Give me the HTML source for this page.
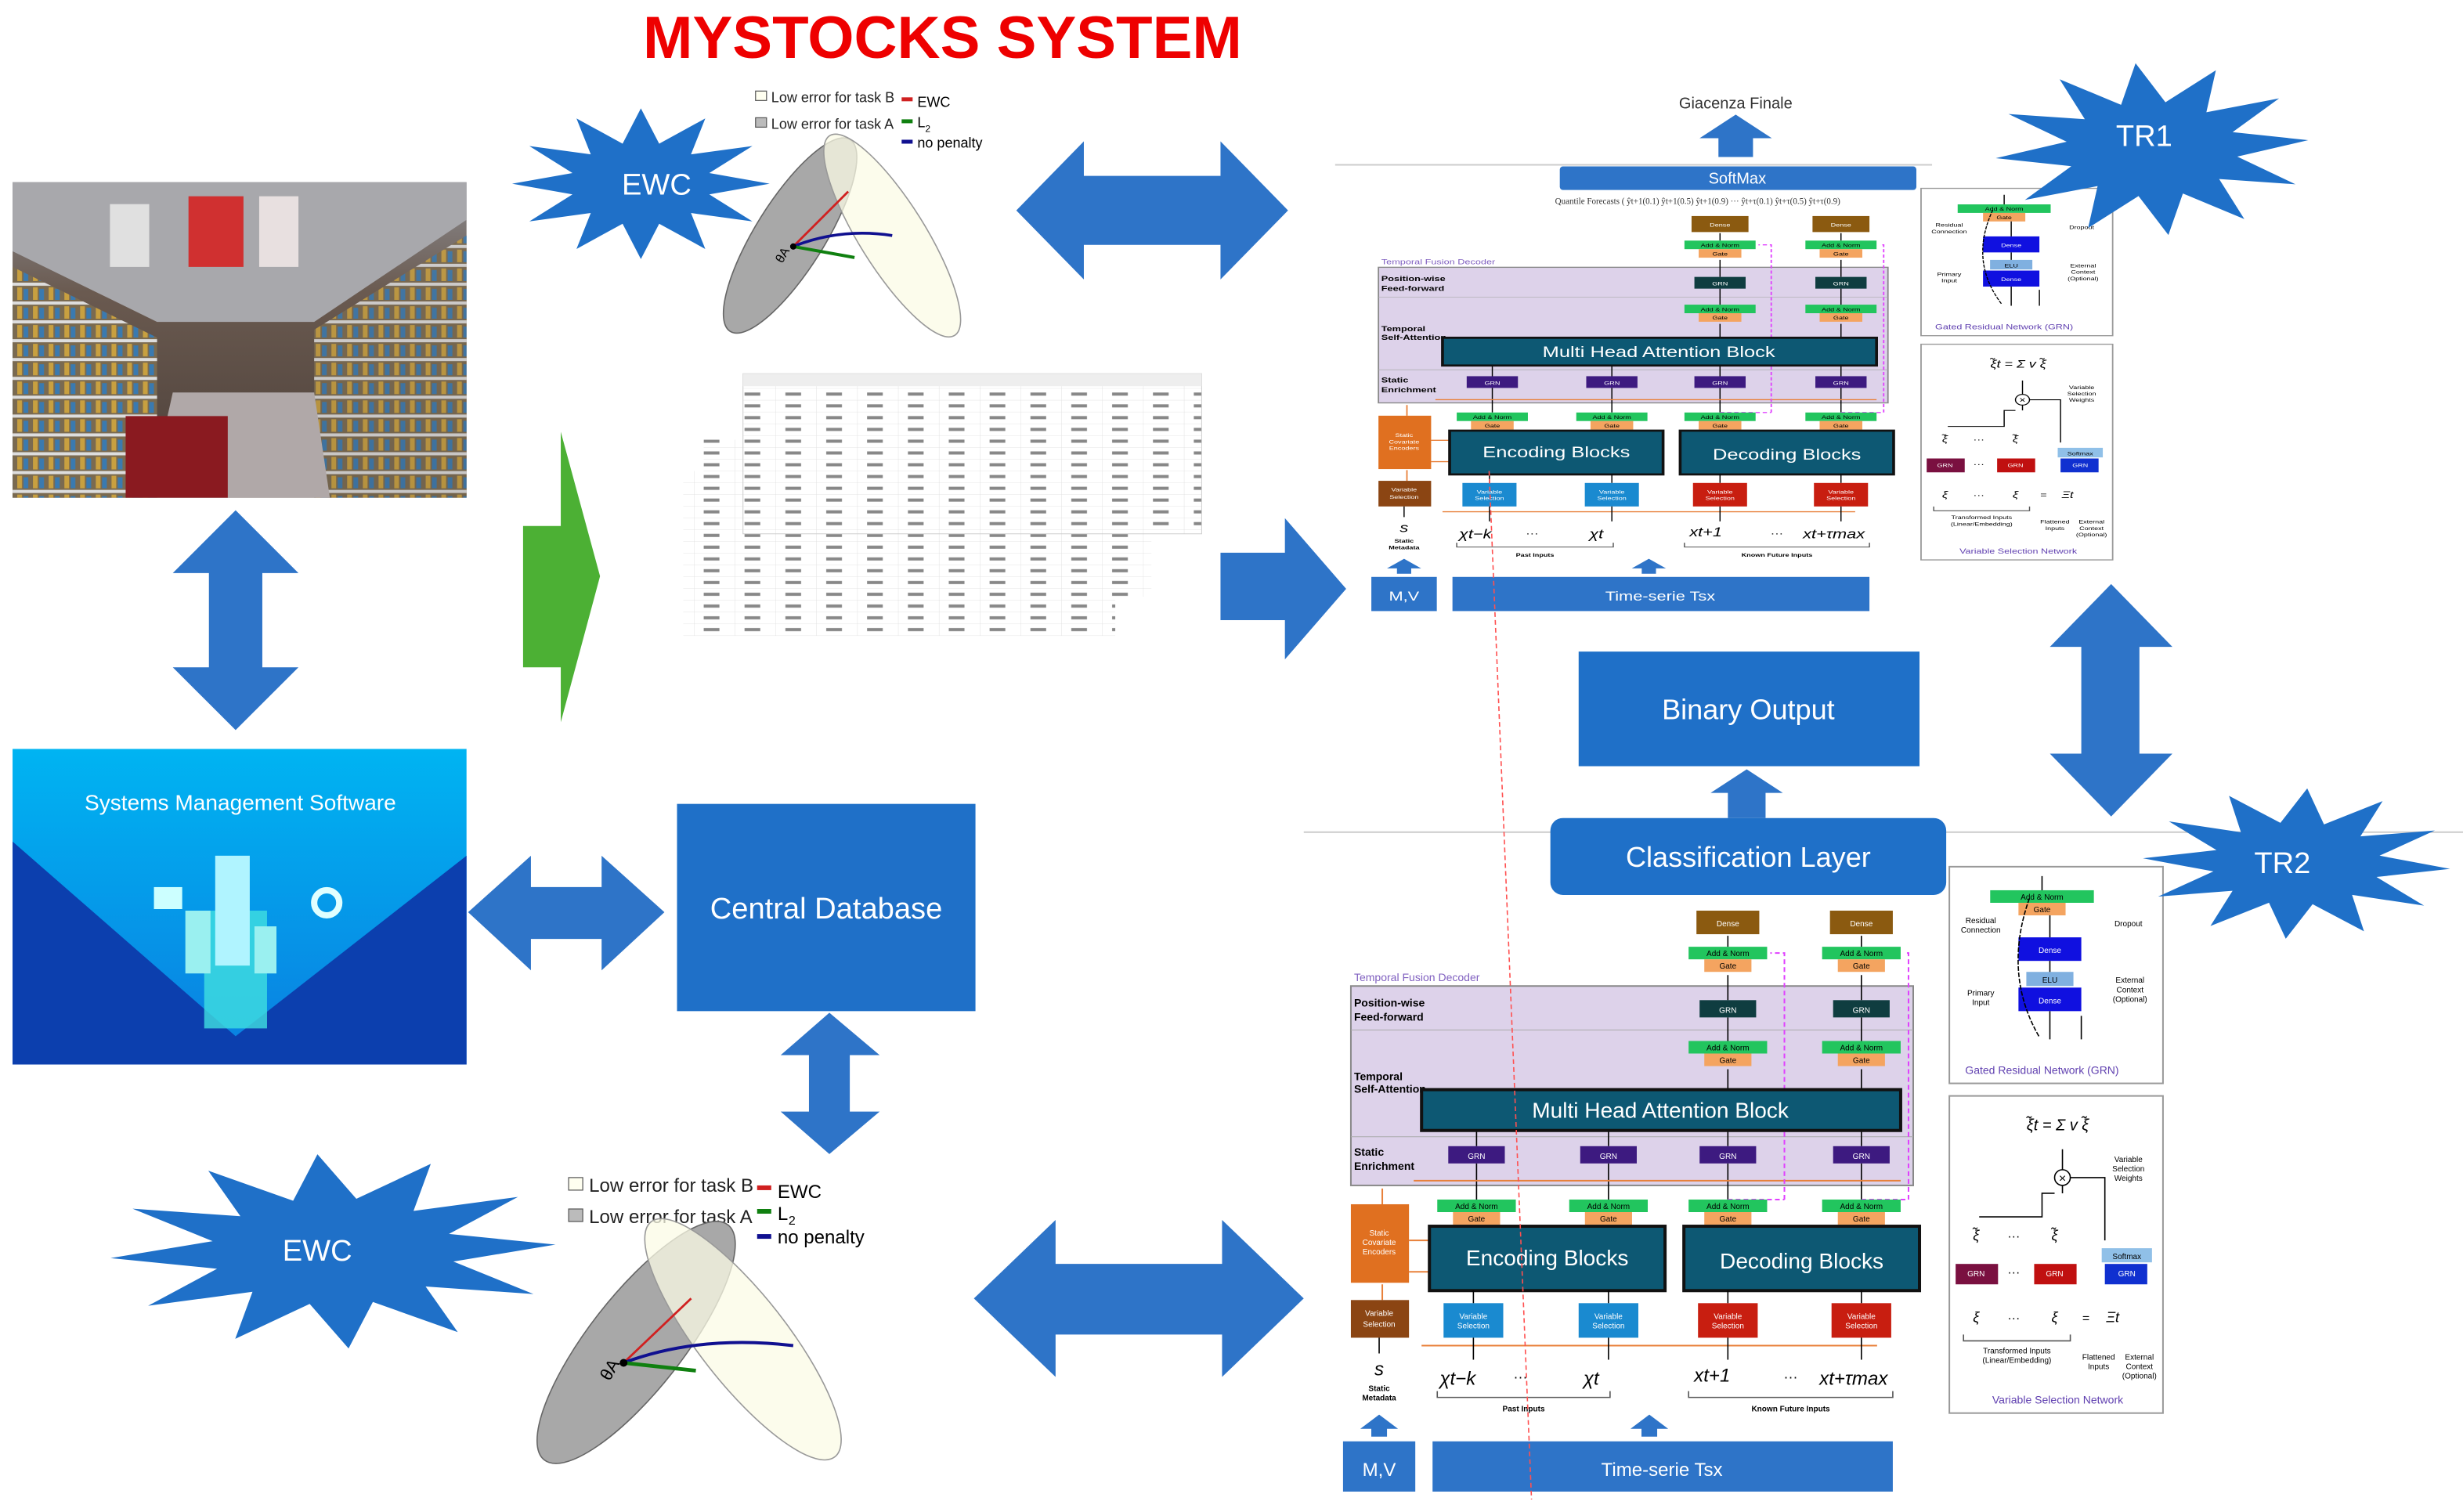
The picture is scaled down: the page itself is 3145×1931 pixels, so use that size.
<!DOCTYPE html>
<html><head><meta charset="utf-8"><style>
html,body{margin:0;padding:0;background:#fff;}
svg{display:block;}
text{font-family:"Liberation Sans",sans-serif;}
.s{font-family:"Liberation Serif",serif;}
</style></head><body>
<svg width="3145" height="1931" viewBox="0 0 1568 963" preserveAspectRatio="none" xmlns="http://www.w3.org/2000/svg">
<defs>
<polygon id="star" points="1,0 .531,.142 .866,.5 .389,.389 .5,.866 .142,.531 0,1 -.142,.531 -.5,.866 -.389,.389 -.866,.5 -.531,.142 -1,0 -.531,-.142 -.866,-.5 -.389,-.389 -.5,-.866 -.142,-.531 0,-1 .142,-.531 .5,-.866 .389,-.389 .866,-.5 .531,-.142"/>
<linearGradient id="sms" x1="0" y1="0" x2="0" y2="1"><stop offset="0" stop-color="#00b4f2"/><stop offset="1" stop-color="#0a7ee0"/></linearGradient>
<linearGradient id="shop" x1="0" y1="0" x2="0" y2="1"><stop offset="0" stop-color="#8c8c90"/><stop offset=".35" stop-color="#6a5a50"/><stop offset="1" stop-color="#4a3e38"/></linearGradient>
<pattern id="grid" width="26" height="7.5" patternUnits="userSpaceOnUse"><rect width="26" height="7.5" fill="#fff"/><path d="M0 7.5H26M26 0V7.5" stroke="#dcdcdc" stroke-width=".4"/><rect x="6" y="2.5" width="10" height="2" fill="#888"/></pattern>
<pattern id="shelf" width="10" height="12" patternUnits="userSpaceOnUse"><rect width="10" height="12" fill="#7a6a50"/><rect y="0" width="10" height="2" fill="#ddd"/><rect x="1" y="3" width="3" height="8" fill="#c8a040"/><rect x="5" y="4" width="3" height="7" fill="#3a7ab0"/></pattern>
</defs>

<text x="600" y="37" font-size="38" font-weight="bold" fill="#ee0000" text-anchor="middle">MYSTOCKS SYSTEM</text>

<!-- shop photo -->
<rect x="8" y="116" width="289" height="201" fill="url(#shop)"/>
<polygon points="8,116 297,116 297,140 200,205 100,205 8,160" fill="#a8a8ac"/>
<polygon points="8,170 100,215 100,317 8,317" fill="url(#shelf)"/>
<polygon points="200,210 297,150 297,317 200,317" fill="url(#shelf)" opacity=".85"/>
<polygon points="110,250 200,250 210,317 95,317" fill="#b0a8a8"/>
<rect x="80" y="265" width="65" height="52" fill="#8a1a20"/>
<rect x="70" y="130" width="25" height="40" fill="#e0e0e0"/><rect x="120" y="125" width="35" height="45" fill="#d03030"/><rect x="165" y="125" width="25" height="45" fill="#e8e0e0"/>

<polygon points="150,325 190,365 167,365 167,425 190,425 150,465 110,425 133,425 133,365 110,365" fill="#2e74c8"/>

<rect x="8" y="477" width="289" height="201" fill="url(#sms)"/>
<polygon points="8,536 150,660 297,545 297,678 8,678" fill="#0c3fae"/>
<rect x="130" y="580" width="40" height="75" fill="#40e0e0" opacity=".8"/>
<rect x="137" y="545" width="22" height="70" fill="#b0f4ff"/>
<rect x="118" y="580" width="16" height="40" fill="#9af0f0"/><rect x="162" y="590" width="14" height="30" fill="#9af0f0"/>
<rect x="98" y="565" width="18" height="14" fill="#cff"/><circle cx="208" cy="575" r="8" fill="none" stroke="#e0ffff" stroke-width="4"/>
<text x="153" y="516" font-size="14" fill="#fff" text-anchor="middle">Systems Management Software</text>

<polygon points="298,581 338,545 338,565 383,565 383,545 423,581 383,618 383,598 338,598 338,618" fill="#2e74c8"/>

<rect x="431" y="512" width="190" height="132" fill="#1f70c8"/>
<text x="526" y="585" font-size="19" fill="#fff" text-anchor="middle">Central Database</text>
<polygon points="528,645 560,672 541,672 541,708 560,708 528,735 497,708 515,708 515,672 497,672" fill="#2e74c8"/>

<use href="#star" transform="translate(408,117) scale(82,48)" fill="#1f70c8"/>
<text x="418" y="124" font-size="19" fill="#fff" text-anchor="middle">EWC</text>
<use href="#star" transform="translate(212,797) scale(142,62) rotate(-4)" fill="#1f70c8"/>
<text x="202" y="803" font-size="19" fill="#fff" text-anchor="middle">EWC</text>

<rect x="481" y="58" width="7" height="6" fill="#fffff0" stroke="#555" stroke-width=".6"/>
<text x="491" y="65" font-size="9" fill="#222">Low error for task B</text>
<rect x="481" y="75" width="7" height="6" fill="#bbb" stroke="#555" stroke-width=".6"/>
<text x="491" y="82" font-size="9" fill="#222">Low error for task A</text>
<rect x="574" y="62" width="7" height="2.5" fill="#d02020"/><text x="584" y="68" font-size="9">EWC</text>
<rect x="574" y="76" width="7" height="2.5" fill="#108010"/><text x="584" y="81" font-size="9">L</text><text x="589" y="84" font-size="6">2</text>
<rect x="574" y="89" width="7" height="2.5" fill="#101090"/><text x="584" y="94" font-size="9">no penalty</text>
<ellipse cx="503" cy="150" rx="72" ry="22" transform="rotate(-58 503 150)" fill="#a8a8a8" stroke="#666" stroke-width=".8"/>
<ellipse cx="568" cy="150" rx="75" ry="21" transform="rotate(58 568 150)" fill="#fbfbe6" fill-opacity=".75" stroke="#999" stroke-width=".8"/>
<line x1="505" y1="157" x2="540" y2="122" stroke="#d02020" stroke-width="1.4"/>
<path d="M505 157 Q535 145 568 150" fill="none" stroke="#101090" stroke-width="1.8"/>
<line x1="505" y1="157" x2="544" y2="164" stroke="#108010" stroke-width="2"/>
<circle cx="505" cy="157" r="2" fill="#000"/><text x="498" y="168" font-size="8" transform="rotate(-60 498 168)">θA</text>

<rect x="362" y="750" width="9" height="8" fill="#fffff0" stroke="#555" stroke-width=".6"/>
<text x="375" y="759" font-size="12" fill="#222">Low error for task B</text>
<rect x="362" y="770" width="9" height="8" fill="#bbb" stroke="#555" stroke-width=".6"/>
<text x="375" y="779" font-size="12" fill="#222">Low error for task A</text>
<rect x="482" y="755" width="9" height="3" fill="#d02020"/><text x="495" y="763" font-size="12">EWC</text>
<rect x="482" y="770" width="9" height="3" fill="#108010"/><text x="495" y="777" font-size="12">L</text><text x="502" y="780" font-size="8">2</text>
<rect x="482" y="786" width="9" height="3" fill="#101090"/><text x="495" y="792" font-size="12">no penalty</text>
<ellipse cx="405" cy="855" rx="95" ry="30" transform="rotate(-52 405 855)" fill="#a8a8a8" stroke="#666" stroke-width=".8"/>
<ellipse cx="473" cy="853" rx="95" ry="28" transform="rotate(52 473 853)" fill="#fbfbe6" fill-opacity=".75" stroke="#999" stroke-width=".8"/>
<line x1="397" y1="868" x2="440" y2="827" stroke="#d02020" stroke-width="1.4"/>
<path d="M397 868 Q445 850 505 857" fill="none" stroke="#101090" stroke-width="2"/>
<line x1="397" y1="868" x2="443" y2="873" stroke="#108010" stroke-width="2.4"/>
<circle cx="397" cy="868" r="2.5" fill="#000"/><text x="388" y="880" font-size="11" transform="rotate(-60 388 880)">θA</text>

<polygon points="647,134 690,90 690,112 777,112 777,90 820,134 777,178 777,156 690,156 690,178" fill="#2e74c8"/>
<polygon points="620,827 672,777 672,805 778,805 778,777 830,827 778,877 778,850 672,850 672,877" fill="#2e74c8"/>

<polygon points="333,335 357,335 357,275 382,367 357,460 357,425 333,425" fill="#4cb034"/>

<rect x="435" y="300" width="275" height="105" fill="url(#grid)"/>
<rect x="448" y="280" width="285" height="100" fill="url(#grid)"/>
<rect x="473" y="238" width="292" height="102" fill="url(#grid)" stroke="#ccc" stroke-width=".5"/>
<rect x="473" y="238" width="292" height="8" fill="#eee"/>

<polygon points="777,352 818,352 818,330 857,375 818,420 818,395 777,395" fill="#2e74c8"/>

<line x1="850" y1="105" x2="1230" y2="105" stroke="#ccc" stroke-width="1"/>
<line x1="830" y1="530" x2="1568" y2="530" stroke="#ccc" stroke-width="1"/>

<defs>
<g id="tft">
 <g class="s" font-size="5" text-anchor="middle">
 <rect x="860" y="628" width="358" height="127" fill="#ddd2ea" stroke="#888" stroke-width="1"/>
 <line x1="860" y1="656" x2="1218" y2="656" stroke="#aaa" stroke-width=".5"/>
 <line x1="860" y1="724" x2="1218" y2="724" stroke="#aaa" stroke-width=".5"/>
 <text x="862" y="625" font-size="7" fill="#8060c0" text-anchor="start">Temporal Fusion Decoder</text>
 <text x="862" y="641" font-size="7" font-weight="bold" text-anchor="start">Position-wise</text>
 <text x="862" y="650" font-size="7" font-weight="bold" text-anchor="start">Feed-forward</text>
 <text x="862" y="688" font-size="7" font-weight="bold" text-anchor="start">Temporal</text>
 <text x="862" y="696" font-size="7" font-weight="bold" text-anchor="start">Self-Attention</text>
 <text x="862" y="736" font-size="7" font-weight="bold" text-anchor="start">Static</text>
 <text x="862" y="745" font-size="7" font-weight="bold" text-anchor="start">Enrichment</text>
 <path d="M1100 596V603M1100 621V637M1100 648V663M1100 681V694M1100 720V730M1100 741V764M1185 596V603M1185 621V637M1185 648V663M1185 681V694M1185 720V730M1185 741V764M940 720V730M940 741V764M1024 720V730M1024 741V764" stroke="#000" stroke-width=".8"/>
 <path d="M900 752H1210M897 790H910M897 810H910M880 767V757M880 828V818M905 857H1195" stroke="#e8803a" stroke-width="1" fill="none"/>
 <path d="M1136 764V607H1127M1215 764V607H1212M1100 764H1136M1185 764H1215" stroke="#e040ff" stroke-width="1" stroke-dasharray="3,2" fill="none"/>
 <rect x="1080" y="580" width="40" height="15" fill="#8b5a10"/><text x="1100" y="590" fill="#fff">Dense</text>
 <rect x="1165" y="580" width="40" height="15" fill="#8b5a10"/><text x="1185" y="590" fill="#fff">Dense</text>
 <g id="an1"><rect x="1075" y="603" width="50" height="8" fill="#22c55e"/><rect x="1085" y="611" width="30" height="8" fill="#f4a460"/><text x="1100" y="609">Add &amp; Norm</text><text x="1100" y="617">Gate</text></g>
 <use href="#an1" x="85"/>
 <use href="#an1" y="60"/><use href="#an1" x="85" y="60"/>
 <use href="#an1" x="-160" y="161"/><use href="#an1" x="-76" y="161"/><use href="#an1" y="161"/><use href="#an1" x="85" y="161"/>
 <rect x="1082" y="637" width="36" height="11" fill="#0f3d40"/><text x="1100" y="645" fill="#fff">GRN</text>
 <rect x="1167" y="637" width="36" height="11" fill="#0f3d40"/><text x="1185" y="645" fill="#fff">GRN</text>
 <rect x="922" y="730" width="36" height="11" fill="#3d1a80"/><text x="940" y="738" fill="#fff">GRN</text>
 <rect x="1006" y="730" width="36" height="11" fill="#3d1a80"/><text x="1024" y="738" fill="#fff">GRN</text>
 <rect x="1082" y="730" width="36" height="11" fill="#3d1a80"/><text x="1100" y="738" fill="#fff">GRN</text>
 <rect x="1167" y="730" width="36" height="11" fill="#3d1a80"/><text x="1185" y="738" fill="#fff">GRN</text>
 </g>
 <rect x="905" y="694" width="305" height="26" fill="#0d5873" stroke="#111" stroke-width="2"/>
 <text x="1057" y="712" font-size="14" fill="#fff" text-anchor="middle">Multi Head Attention Block</text>
 <rect x="910" y="781" width="150" height="41" fill="#0d5873" stroke="#111" stroke-width="2"/>
 <text x="985" y="806" font-size="14" fill="#fff" text-anchor="middle">Encoding Blocks</text>
 <rect x="1072" y="781" width="150" height="41" fill="#0d5873" stroke="#111" stroke-width="2"/>
 <text x="1147" y="808" font-size="14" fill="#fff" text-anchor="middle">Decoding Blocks</text>
 <g class="s" font-size="5" text-anchor="middle">
 <rect x="860" y="767" width="37" height="50" fill="#e07020"/><text x="878" y="787" fill="#fff">Static</text><text x="878" y="793" fill="#fff">Covariate</text><text x="878" y="799" fill="#fff">Encoders</text>
 <rect x="860" y="828" width="37" height="24" fill="#8b4513"/><text x="878" y="838" fill="#fff">Variable</text><text x="878" y="845" fill="#fff">Selection</text>
 <rect x="919" y="830" width="38" height="22" fill="#1a8ad0"/><text x="938" y="840" fill="#fff">Variable</text><text x="938" y="846" fill="#fff">Selection</text>
 <rect x="1005" y="830" width="38" height="22" fill="#1a8ad0"/><text x="1024" y="840" fill="#fff">Variable</text><text x="1024" y="846" fill="#fff">Selection</text>
 <rect x="1081" y="830" width="38" height="22" fill="#c81e10"/><text x="1100" y="840" fill="#fff">Variable</text><text x="1100" y="846" fill="#fff">Selection</text>
 <rect x="1166" y="830" width="38" height="22" fill="#c81e10"/><text x="1185" y="840" fill="#fff">Variable</text><text x="1185" y="846" fill="#fff">Selection</text>
 <path d="M938 822V830M1024 822V830M1100 822V830M1185 822V830M938 852V866M1024 852V866M1100 852V866M1185 852V866M878 852V862" stroke="#000" stroke-width=".8"/>
 <text x="878" y="876" font-size="12" font-style="italic">s</text>
 <text x="878" y="886" font-weight="bold">Static</text><text x="878" y="892" font-weight="bold">Metadata</text>
 <text x="928" y="882" font-size="12" font-style="italic">χt−k</text>
 <text x="968" y="880" font-size="9">···</text>
 <text x="1013" y="882" font-size="12" font-style="italic">χt</text>
 <text x="1090" y="880" font-size="12" font-style="italic">xt+1</text>
 <text x="1140" y="880" font-size="9">···</text>
 <text x="1180" y="882" font-size="12" font-style="italic">xt+τmax</text>
 <path d="M915 886V890H1025V886M1075 886V890H1205V886" stroke="#555" stroke-width=".8" fill="none"/>
 <text x="970" y="899" font-weight="bold">Past Inputs</text>
 <text x="1140" y="899" font-weight="bold">Known Future Inputs</text>
 </g>
 <polygon points="866,910 878,901 890,910 883,910 883,915 873,915 873,910" fill="#2e74c8"/>
 <polygon points="1038,910 1050,901 1062,910 1055,910 1055,915 1045,915 1045,910" fill="#2e74c8"/>
 <rect x="855" y="918" width="46" height="32" fill="#2e74c8"/>
 <text x="878" y="940" font-size="12" fill="#fff" text-anchor="middle">M,V</text>
 <rect x="912" y="918" width="293" height="32" fill="#2e74c8"/>
 <text x="1058" y="940" font-size="12" fill="#fff" text-anchor="middle">Time-serie Tsx</text>
</g>

<g id="side" class="s" font-size="5" text-anchor="middle">
 <rect x="1241" y="552" width="136" height="138" fill="#fff" stroke="#999" stroke-width="1"/>
 <rect x="1267" y="567" width="66" height="8" fill="#22c55e"/><text x="1300" y="573">Add &amp; Norm</text>
 <rect x="1285" y="575" width="30" height="8" fill="#f4a460"/><text x="1300" y="581">Gate</text>
 <rect x="1285" y="597" width="40" height="15" fill="#1010e0"/><text x="1305" y="607" fill="#fff">Dense</text>
 <rect x="1290" y="619" width="30" height="9" fill="#80b0e0"/><text x="1305" y="626">ELU</text>
 <rect x="1285" y="629" width="40" height="15" fill="#1010e0"/><text x="1305" y="639" fill="#fff">Dense</text>
 <path d="M1305 583V597M1305 612V619M1305 644V662M1325 662V647M1300 567V558" stroke="#000" stroke-width=".8"/>
 <path d="M1298 660Q1275 620 1292 572" stroke="#000" stroke-width=".8" fill="none" stroke-dasharray="3,1"/>
 <text x="1261" y="588">Residual</text><text x="1261" y="594">Connection</text>
 <text x="1355" y="590">Dropout</text>
 <text x="1261" y="634">Primary</text><text x="1261" y="640">Input</text>
 <text x="1356" y="626">External</text><text x="1356" y="632">Context</text><text x="1356" y="638">(Optional)</text>
 <text x="1300" y="684" font-size="7" fill="#6040b0">Gated Residual Network (GRN)</text>

 <rect x="1241" y="698" width="136" height="202" fill="#fff" stroke="#999" stroke-width="1"/>
 <text x="1310" y="720" font-size="10" font-style="italic">ξ̃t = Σ v ξ̃</text>
 <circle cx="1313" cy="750" r="5" fill="#fff" stroke="#000" stroke-width=".8"/><text x="1313" y="753" font-size="8">×</text>
 <path d="M1260 775H1300V760H1308M1318 750H1340V790M1313 755V760M1313 745V732" stroke="#000" stroke-width=".8" fill="none"/>
 <text x="1355" y="740">Variable</text><text x="1355" y="746">Selection</text><text x="1355" y="752">Weights</text>
 <text x="1258" y="790" font-size="9" font-style="italic">ξ̃</text><text x="1282" y="790" font-size="8">···</text><text x="1308" y="790" font-size="9" font-style="italic">ξ̃</text>
 <rect x="1245" y="805" width="27" height="13" fill="#7a1040"/><text x="1258" y="813" fill="#fff">GRN</text>
 <text x="1282" y="813" font-size="8">···</text>
 <rect x="1295" y="805" width="27" height="13" fill="#c01010"/><text x="1308" y="813" fill="#fff">GRN</text>
 <rect x="1338" y="795" width="32" height="9" fill="#90c0e8"/><text x="1354" y="802">Softmax</text>
 <rect x="1340" y="805" width="27" height="13" fill="#1030d0"/><text x="1354" y="813" fill="#fff">GRN</text>
 <text x="1258" y="842" font-size="9" font-style="italic">ξ</text><text x="1282" y="842" font-size="8">···</text><text x="1308" y="842" font-size="9" font-style="italic">ξ</text>
 <text x="1328" y="842" font-size="8">=</text><text x="1345" y="842" font-size="9" font-style="italic">Ξt</text>
 <path d="M1250 850V854H1318V850" stroke="#555" stroke-width=".8" fill="none"/>
 <text x="1284" y="862">Transformed Inputs</text><text x="1284" y="868">(Linear/Embedding)</text>
 <text x="1336" y="866">Flattened</text><text x="1336" y="872">Inputs</text>
 <text x="1362" y="866">External</text><text x="1362" y="872">Context</text><text x="1362" y="878">(Optional)</text>
 <text x="1310" y="894" font-size="7" fill="#6040b0">Variable Selection Network</text>
</g>
</defs>

<use href="#tft"/>
<use href="#side"/>
<use href="#tft" transform="matrix(0.906 0 0 0.68 98.4 -256.8)"/>
<use href="#side" transform="matrix(0.897 0 0 0.68 109.8 -255.4)"/>

<line x1="948" y1="300" x2="975" y2="955" stroke="#ff5050" stroke-width=".8" stroke-dasharray="3,2"/>

<text x="1105" y="69" font-size="10" text-anchor="middle" fill="#333">Giacenza Finale</text>
<polygon points="1105,73 1128,88 1116,88 1116,100 1094,100 1094,88 1082,88" fill="#2e74c8"/>
<rect x="993" y="106" width="227" height="15" rx="2" fill="#2e74c8"/>
<text x="1106" y="117" font-size="10" fill="#fff" text-anchor="middle">SoftMax</text>
<text x="990" y="130" font-size="5.5" class="s" fill="#333">Quantile Forecasts ( ŷt+1(0.1) ŷt+1(0.5) ŷt+1(0.9) ··· ŷt+τ(0.1) ŷt+τ(0.5) ŷt+τ(0.9)</text>

<use href="#star" transform="translate(1370,95) scale(100,55) rotate(-6)" fill="#1f70c8"/>
<text x="1365" y="93" font-size="19" fill="#fff" text-anchor="middle">TR1</text>
<use href="#star" transform="translate(1462,550) scale(98,48) rotate(4)" fill="#1f70c8"/>
<text x="1453" y="556" font-size="19" fill="#fff" text-anchor="middle">TR2</text>

<polygon points="1344,372 1383,412 1362,412 1362,480 1383,480 1344,520 1305,480 1325,480 1325,412 1305,412" fill="#2e74c8"/>

<rect x="1005" y="415" width="217" height="73" fill="#1f70c8"/>
<text x="1113" y="458" font-size="18" fill="#fff" text-anchor="middle">Binary Output</text>
<polygon points="1112,490 1135,505 1124,505 1124,521 1100,521 1100,505 1089,505" fill="#2e74c8"/>
<rect x="987" y="521" width="252" height="49" rx="8" fill="#1f70c8"/>
<text x="1113" y="552" font-size="18" fill="#fff" text-anchor="middle">Classification Layer</text>
</svg>
</body></html>
